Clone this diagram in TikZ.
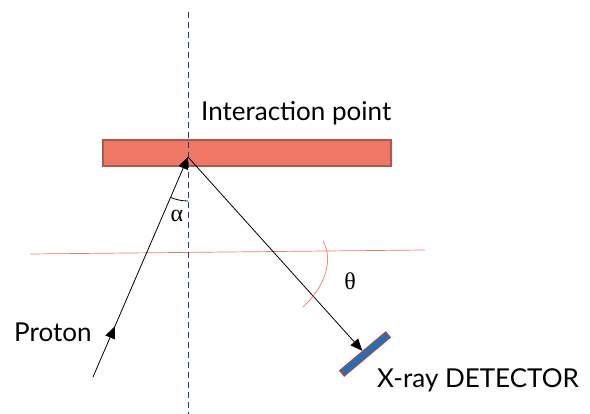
\documentclass[tikz,border=0pt]{standalone}
\usepackage{fontspec}
\setmainfont{Lato}
\newfontfamily\greekfont{Liberation Serif}
\usetikzlibrary{positioning, arrows.meta, calc, angles, decorations.markings}
\definecolor{targetred}{HTML}{EE7766}
\definecolor{targetedge}{HTML}{B0574A}
\definecolor{axisblue}{HTML}{1F3A7A}
\definecolor{planered}{HTML}{F07A68}
\definecolor{detblue}{HTML}{1F6FC0}
\definecolor{detedge}{HTML}{A0503E}

\begin{document}
\begin{tikzpicture}[x=1pt, y=-1pt,
    target/.style={draw=targetedge, line width=1.3pt, fill=targetred, rectangle, minimum width=288pt, minimum height=26pt, inner sep=0pt},
    detector/.style={draw=detedge, line width=1.3pt, fill=detblue, rectangle, minimum width=60pt, minimum height=7pt, inner sep=0pt, rotate=40},
    beam/.style={line width=0.8pt, -{Triangle[length=12pt, width=10pt]}},
    axis/.style={axisblue, line width=0.8pt, dash pattern=on 6pt off 4pt},
    plane/.style={planered, line width=0.7pt},
    label/.style={font=\fontsize{26}{30}\selectfont, inner sep=0pt},
    greek/.style={font=\greekfont\fontsize{24}{28}\selectfont, inner sep=0pt}
]
\useasboundingbox (0,0) rectangle (590,414);

% Knoten
\node[target] (tgt) at (247,153) {};
\coordinate (ip) at (188,157);
\coordinate (axtop) at (188,12);
\coordinate (axbot) at (188,414);
\coordinate (pstart) at (93,377);
\coordinate (plnw) at (30,254);
\coordinate (plne) at (425,250);
\node[detector] (det) at (365,354) {};
\node[label, anchor=base west] (iplabel) at (201,121) {Interaction point};
\node[label, anchor=base west] (plabel) at (14,342) {Proton};
\node[label, anchor=base west] (dlabel) at (377,388) {X-ray DETECTOR};
\node[greek] (alabel) at (177,216) {α};
\node[greek] (tlabel) at (350,281) {θ};

% Linien
\draw[plane] (plnw) -- (plne);
\draw[axis] (axtop) -- (axbot);
\draw[beam, postaction={decorate}, decoration={markings, mark=at position 0.23 with {\arrow{Triangle[length=12pt, width=10pt]}}}] (pstart) -- (ip);
\draw[beam] (ip) -- (det.north);
\pic[draw, line width=0.8pt, angle radius=44pt] {angle = pstart--ip--axbot};
\draw[plane] (323,241) .. controls (335,262) and (322,290) .. (303,307);

\end{tikzpicture}
\end{document}
